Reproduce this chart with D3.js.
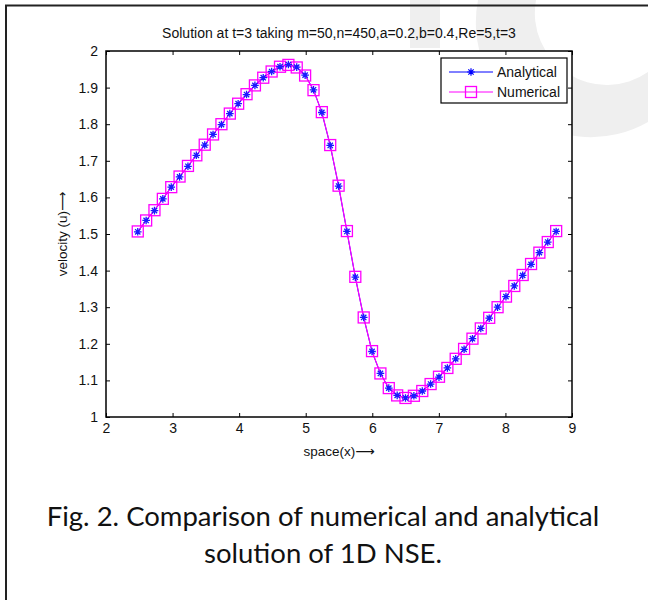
<!DOCTYPE html>
<html>
<head>
<meta charset="utf-8">
<script src="https://cdn.jsdelivr.net/npm/d3@7"></script>
<style>
  body { margin: 0; background: #fff; }
  svg { display: block; font-family: "Liberation Sans", Arial, sans-serif; }
</style>
</head>
<body>
<div id="chart"></div>
<script>
// données
const xValues = [2.477, 2.603, 2.728, 2.854, 2.980, 3.105, 3.231, 3.357, 3.483, 3.608,
  3.734, 3.860, 3.985, 4.111, 4.237, 4.362, 4.488, 4.614, 4.740, 4.865,
  4.991, 5.117, 5.242, 5.368, 5.494, 5.619, 5.745, 5.871, 5.996, 6.122,
  6.248, 6.374, 6.499, 6.625, 6.751, 6.876, 7.002, 7.128, 7.253, 7.379,
  7.505, 7.630, 7.756, 7.882, 8.008, 8.133, 8.259, 8.385, 8.510, 8.636, 8.762];

const analytical = [1.506, 1.537, 1.564, 1.596, 1.628, 1.656, 1.685, 1.715, 1.743, 1.772,
  1.799, 1.829, 1.856, 1.881, 1.906, 1.927, 1.944, 1.957, 1.963, 1.956,
  1.934, 1.894, 1.832, 1.742, 1.631, 1.507, 1.382, 1.272, 1.179, 1.119,
  1.079, 1.059, 1.052, 1.058, 1.071, 1.090, 1.109, 1.134, 1.159, 1.185,
  1.214, 1.242, 1.270, 1.300, 1.329, 1.358, 1.387, 1.417, 1.449, 1.478, 1.507];

const numerical = [1.507, 1.537, 1.565, 1.596, 1.628, 1.657, 1.686, 1.715, 1.744, 1.772,
  1.800, 1.829, 1.856, 1.882, 1.906, 1.927, 1.944, 1.957, 1.962, 1.955,
  1.933, 1.893, 1.833, 1.743, 1.632, 1.508, 1.383, 1.272, 1.180, 1.119,
  1.079, 1.059, 1.052, 1.058, 1.071, 1.090, 1.110, 1.134, 1.159, 1.186,
  1.214, 1.242, 1.271, 1.300, 1.329, 1.358, 1.388, 1.418, 1.449, 1.478, 1.508];

const xTicks = [2, 3, 4, 5, 6, 7, 8, 9];
const yTicks = [1, 1.1, 1.2, 1.3, 1.4, 1.5, 1.6, 1.7, 1.8, 1.9, 2];
const seriesNames = ["Analytical", "Numerical"];

const title = "Solution at t=3 taking m=50,n=450,a=0.2,b=0.4,Re=5,t=3";
const xLabel = "space(x)";
const yLabel = "velocity (u)";
const arrow = "\u27F6";
const captionLines = ["Fig. 2. Comparison of numerical and analytical", "solution of 1D NSE."];

//---------------------------------------------------------------------------------------

const W = 648, H = 600;
const plot = { left: 106, right: 572, top: 51, bottom: 417 };

const svg = d3.select("#chart")
  .append("svg")
  .attr("width", W)
  .attr("height", H);

// filigrane gris pâle en haut à droite
const wm = svg.append("g").attr("fill", "#efefef");
wm.append("rect").attr("x", 410).attr("y", 0).attr("width", 30).attr("height", 48);
wm.append("path")
  .attr("d", "M478,0 A115,115 0 0 0 648,122 L648,72 A72,72 0 0 1 536,0 Z");

// cadre de la figure
svg.append("path")
  .attr("d", `M6,${H} L6,5.5 L${W},5.5`)
  .attr("fill", "none")
  .attr("stroke", "#222")
  .attr("stroke-width", 2);

// échelles
const x = d3.scaleLinear().domain([2, 9]).range([plot.left, plot.right]);
const y = d3.scaleLinear().domain([1, 2]).range([plot.bottom, plot.top]);

// fond du graphique
svg.append("rect")
  .attr("x", plot.left).attr("y", plot.top)
  .attr("width", plot.right - plot.left)
  .attr("height", plot.bottom - plot.top)
  .attr("fill", "#fff");

// axes (graduations vers l'intérieur, sur les 4 côtés)
const fmt = d => d3.format("")(+d.toFixed(1));

const gx = svg.append("g")
  .attr("transform", `translate(0,${plot.bottom})`)
  .call(d3.axisBottom(x).tickValues(xTicks).tickSize(-4).tickPadding(6).tickFormat(fmt));
const gxTop = svg.append("g")
  .attr("transform", `translate(0,${plot.top})`)
  .call(d3.axisTop(x).tickValues(xTicks).tickSize(-4).tickFormat(""));
const gy = svg.append("g")
  .attr("transform", `translate(${plot.left},0)`)
  .call(d3.axisLeft(y).tickValues(yTicks).tickSize(-4).tickPadding(8).tickFormat(fmt));
const gyRight = svg.append("g")
  .attr("transform", `translate(${plot.right},0)`)
  .call(d3.axisRight(y).tickValues(yTicks).tickSize(-4).tickFormat(""));

[gx, gxTop, gy, gyRight].forEach(g => {
  g.select(".domain").remove();
  g.selectAll(".tick line").attr("stroke", "#000").attr("stroke-width", 1);
  g.selectAll("text")
    .attr("fill", "#111")
    .attr("font-size", "14px")
    .attr("font-family", "Liberation Sans, Arial, sans-serif");
});

svg.append("rect")
  .attr("x", plot.left).attr("y", plot.top)
  .attr("width", plot.right - plot.left)
  .attr("height", plot.bottom - plot.top)
  .attr("fill", "none")
  .attr("stroke", "#000")
  .attr("stroke-width", 1.5);

// courbes
const lineGen = d3.line().x(d => x(d[0])).y(d => y(d[1]));
const dataA = xValues.map((v, i) => [v, analytical[i]]);
const dataN = xValues.map((v, i) => [v, numerical[i]]);

const starPath = (s) => `M${-s},0H${s}M0,${-s}V${s}M${-s*0.7},${-s*0.7}L${s*0.7},${s*0.7}M${-s*0.7},${s*0.7}L${s*0.7},${-s*0.7}`;

svg.append("path").datum(dataA)
  .attr("d", lineGen).attr("fill", "none")
  .attr("stroke", "#0000ff").attr("stroke-width", 1);
svg.append("path").datum(dataN)
  .attr("d", lineGen).attr("fill", "none")
  .attr("stroke", "#ff00ff").attr("stroke-width", 1.2);

svg.append("g").selectAll("rect")
  .data(dataN).join("rect")
  .attr("x", d => x(d[0]) - 5.5).attr("y", d => y(d[1]) - 5.5)
  .attr("width", 11).attr("height", 11)
  .attr("fill", "none").attr("stroke", "#ff00ff").attr("stroke-width", 1.3);

svg.append("g").selectAll("path")
  .data(dataA).join("path")
  .attr("transform", d => `translate(${x(d[0])},${y(d[1])})`)
  .attr("d", starPath(3.8))
  .attr("stroke", "#1a1aff").attr("stroke-width", 1.3);

// titre et libellés des axes
svg.append("text")
  .attr("x", (plot.left + plot.right) / 2).attr("y", 38)
  .attr("text-anchor", "middle").attr("font-size", "14px").attr("fill", "#111")
  .text(title);

const xl = svg.append("text")
  .attr("x", (plot.left + plot.right) / 2).attr("y", 456)
  .attr("text-anchor", "middle").attr("font-size", "13.5px").attr("fill", "#111");
xl.append("tspan").text(xLabel);
xl.append("tspan").attr("font-family", "DejaVu Sans").text(arrow);

const yl = svg.append("text")
  .attr("transform", `translate(67,${(plot.top + plot.bottom) / 2}) rotate(-90)`)
  .attr("text-anchor", "middle").attr("font-size", "13.5px").attr("fill", "#111");
yl.append("tspan").text(yLabel);
yl.append("tspan").attr("font-family", "DejaVu Sans").text(arrow);

// légende
const legend = svg.append("g").attr("transform", "translate(441,58)");
legend.append("rect")
  .attr("width", 126).attr("height", 45)
  .attr("fill", "#fff").attr("stroke", "#000").attr("stroke-width", 1.2);

const legRows = legend.selectAll("g.row")
  .data(seriesNames).join("g")
  .attr("class", "row")
  .attr("transform", (d, i) => `translate(0,${14 + i * 20})`);

legRows.append("line")
  .attr("x1", 8).attr("x2", 52)
  .attr("stroke", (d, i) => i === 0 ? "#0000ff" : "#ff00ff").attr("stroke-width", 1);
legRows.filter((d, i) => i === 0).append("path")
  .attr("transform", "translate(30,0)")
  .attr("d", starPath(3.8)).attr("stroke", "#0000ff").attr("stroke-width", 1.2);
legRows.filter((d, i) => i === 1).append("rect")
  .attr("x", 24.5).attr("y", -5.5).attr("width", 11).attr("height", 11)
  .attr("fill", "none").attr("stroke", "#ff00ff").attr("stroke-width", 1.3);
legRows.append("text")
  .attr("x", 56).attr("y", 5)
  .attr("font-size", "14px").attr("fill", "#111")
  .text(d => d);

// légende de la figure
svg.append("g").selectAll("text")
  .data(captionLines).join("text")
  .attr("x", 323).attr("y", (d, i) => 526 + i * 37)
  .attr("text-anchor", "middle")
  .attr("font-family", "Lato, sans-serif")
  .attr("font-size", "27.5px")
  .attr("fill", "#111")
  .text(d => d);
</script>
</body>
</html>
